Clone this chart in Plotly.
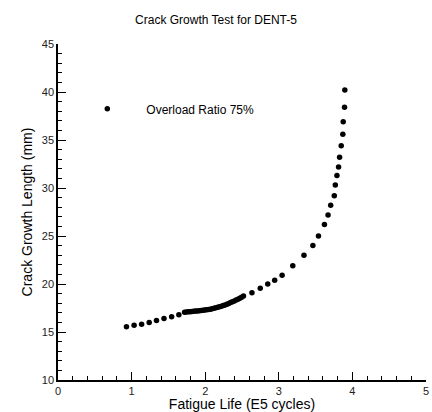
import plotly.graph_objects as go

title = "Crack Growth Test for DENT-5"
series_name = "Overload Ratio 75%"
x_title = "Fatigue Life (E5 cycles)"
y_title = "Crack Growth Length (mm)"

life_e5 = [0.93, 1.034, 1.136, 1.239, 1.338, 1.44, 1.544, 1.642,
           1.72, 1.745, 1.77, 1.795, 1.82, 1.845, 1.87, 1.895, 1.92, 1.945, 1.97, 1.995,
           2.02, 2.045, 2.07, 2.095, 2.12, 2.145, 2.17, 2.195, 2.22, 2.245, 2.27, 2.295,
           2.32, 2.345, 2.37, 2.395, 2.42, 2.445, 2.47, 2.495, 2.52,
           2.635, 2.748, 2.85, 2.944, 3.045, 3.19, 3.342, 3.463, 3.539, 3.62, 3.669,
           3.705, 3.754, 3.768, 3.79, 3.812, 3.826, 3.848, 3.87, 3.875, 3.893, 3.897]
crack_mm = [15.55, 15.7, 15.8, 16.0, 16.2, 16.4, 16.6, 16.8,
            17.05, 17.08, 17.1, 17.12, 17.14, 17.16, 17.18, 17.2, 17.22, 17.24, 17.26, 17.28,
            17.31, 17.34, 17.38, 17.42, 17.47, 17.52, 17.57, 17.63, 17.69, 17.75, 17.82, 17.9,
            17.98, 18.06, 18.15, 18.24, 18.33, 18.42, 18.52, 18.62, 18.75,
            19.1, 19.55, 20.0, 20.4, 20.9, 21.9, 23.0, 24.0, 25.0, 26.2, 27.2,
            28.2, 29.2, 30.3, 31.3, 32.2, 33.2, 34.4, 35.6, 36.9, 38.4, 40.2]

x_ticks = [0, 1, 2, 3, 4, 5]
y_ticks = [10, 15, 20, 25, 30, 35, 40, 45]

FONT = "Arial, Liberation Sans, Helvetica, sans-serif"

fig = go.Figure()
fig.add_trace(go.Scatter(
    x=life_e5, y=crack_mm, mode="markers", name=series_name,
    marker=dict(color="black", size=5.5, symbol="circle"),
))

axis_common = dict(
    showgrid=False, zeroline=False, showline=True, linecolor="black", linewidth=1.5,
    ticks="inside", ticklen=8, tickwidth=1.2, tickcolor="black",
    tickfont=dict(family=FONT, size=11, color="#222"),
    mirror=False, ticklabeloverflow="allow",
)

fig.update_layout(
    width=432, height=412,
    margin=dict(l=58, r=3, t=44, b=32),
    paper_bgcolor="white", plot_bgcolor="white",
    title=dict(text=title, x=0.5, xanchor="center", y=0.952, yanchor="middle",
               font=dict(family=FONT, size=12, color="black")),
    showlegend=True,
    legend=dict(x=0.028, y=0.807, xanchor="left", yanchor="middle",
                font=dict(family=FONT, size=12, color="black"),
                bgcolor="rgba(0,0,0,0)", itemwidth=68, borderwidth=0),
    xaxis=dict(range=[0, 5], tickvals=x_ticks,
               title=dict(text=x_title, standoff=0, font=dict(family=FONT, size=14, color="black")),
               minor=dict(ticks="inside", ticklen=4, dtick=0.2, tickcolor="black", tickwidth=1),
               **axis_common),
    yaxis=dict(range=[10, 45], tickvals=y_ticks,
               title=dict(text=y_title, standoff=6, font=dict(family=FONT, size=14, color="black")),
               minor=dict(ticks="inside", ticklen=4, dtick=1, tickcolor="black", tickwidth=1),
               **axis_common),
)

fig.write_html("out.html", config={"displayModeBar": False},
               post_script="document.body.style.margin='0';")
